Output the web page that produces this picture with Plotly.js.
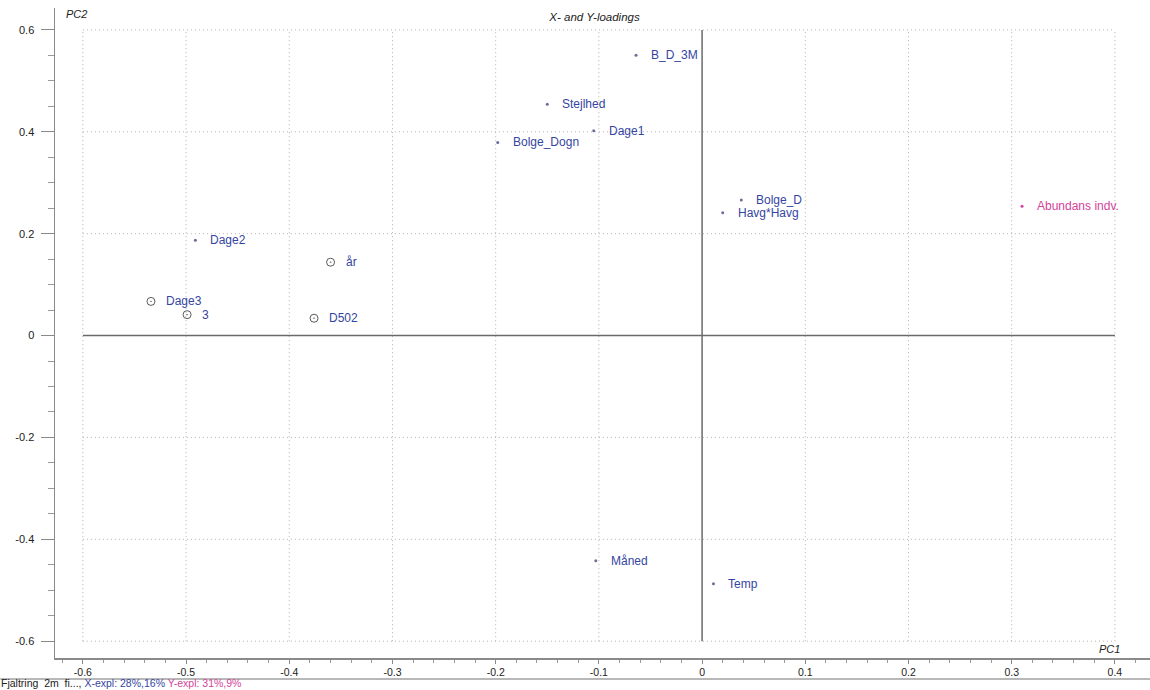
<!DOCTYPE html>
<html>
<head>
<meta charset="utf-8">
<script src="https://cdn.plot.ly/plotly-3.0.1.min.js"></script>
<style>
html,body{margin:0;padding:0;background:#fff;}
#chart{width:1150px;height:690px;}
</style>
</head>
<body>
<div id="chart"></div>
<script>
// X-variables (small dot markers)
const xVarNames = ['B_D_3M','Stejlhed','Dage1','Bolge_Dogn','Bolge_D','Havg*Havg','Dage2','Måned','Temp'];
const xVarPC1 = [-0.064,-0.150,-0.105,-0.198,0.038,0.020,-0.491,-0.103,0.011];
const xVarPC2 = [0.550,0.454,0.402,0.379,0.266,0.241,0.187,-0.442,-0.487];

// X-variables drawn with open circle markers
const catNames = ['år','Dage3','3','D502'];
const catPC1 = [-0.360,-0.534,-0.499,-0.376];
const catPC2 = [0.144,0.067,0.041,0.034];

// Y-variable
const yVarNames = ['Abundans indv.'];
const yVarPC1 = [0.310];
const yVarPC2 = [0.254];

// axis ticks / grid
const xGrid = [-0.6,-0.5,-0.4,-0.3,-0.2,-0.1,0,0.1,0.2,0.3,0.4];
const yGrid = [-0.6,-0.4,-0.2,0.2,0.4,0.6];
const xTickLabels = ['-0.6','-0.5','-0.4','-0.3','-0.2','-0.1','0','0.1','0.2','0.3','0.4'];
const yTickVals = [-0.6,-0.4,-0.2,0,0.2,0.4,0.6];
const yTickLabels = ['-0.6','-0.4','-0.2','0','0.2','0.4','0.6'];

const title = 'X- and Y-loadings';
const footerName = 'Fjaltring  2m  fi...,';
const footerX = 'X-expl: 28%,16%';
const footerY = 'Y-expl: 31%,9%';

const BLUE = '#34459f';
const MAGENTA = '#d4439c';
const GRIDC = '#b0b0b0';
const FONT = 'Liberation Sans, Arial, sans-serif';

const gxMin = xGrid[0], gxMax = xGrid[xGrid.length-1];
const gyMin = yGrid[0], gyMax = yGrid[yGrid.length-1];

const traces = [
  {
    type:'scatter', mode:'markers', x:xVarPC1, y:xVarPC2, text:xVarNames,
    marker:{symbol:'circle', size:3, color:'#6a6f9a'}, hoverinfo:'text'
  },
  {
    type:'scatter', mode:'markers', x:catPC1, y:catPC2, text:catNames,
    marker:{symbol:'circle-open-dot', size:8, color:'#5a5a5a', line:{width:1}}, hoverinfo:'text'
  },
  {
    type:'scatter', mode:'markers', x:yVarPC1, y:yVarPC2, text:yVarNames,
    marker:{symbol:'circle', size:3, color:MAGENTA}, hoverinfo:'text'
  }
];

const shapes = [];
xGrid.forEach(v => {
  if (v === 0) return;
  shapes.push({type:'line', xref:'x', yref:'y', x0:v, x1:v, y0:gyMin, y1:gyMax,
    line:{color:GRIDC, width:1, dash:'1px,3px'}, layer:'below'});
});
yGrid.forEach(v => {
  shapes.push({type:'line', xref:'x', yref:'y', x0:gxMin, x1:gxMax, y0:v, y1:v,
    line:{color:GRIDC, width:1, dash:'1px,3px'}, layer:'below'});
});
// zero lines
shapes.push({type:'line', xref:'x', yref:'y', x0:0, x1:0, y0:gyMin, y1:gyMax,
  line:{color:'#6a6a6a', width:1.5}, layer:'below'});
shapes.push({type:'line', xref:'x', yref:'y', x0:gxMin, x1:gxMax, y0:0, y1:0,
  line:{color:'#6a6a6a', width:1.5}, layer:'below'});
// separator line under x tick labels
shapes.push({type:'line', xref:'paper', yref:'paper', x0:-0.05, x1:1, y0:-0.0323, y1:-0.0323,
  line:{color:'#a0a0a0', width:1.5}, layer:'above'});

const annotations = [];
function addLabels(names, xs, ys, color){
  names.forEach((n,i) => {
    annotations.push({x:xs[i], y:ys[i], xref:'x', yref:'y', text:n, showarrow:false,
      xanchor:'left', yanchor:'middle', xshift:13,
      font:{family:FONT, size:12, color:color}});
  });
}
addLabels(xVarNames, xVarPC1, xVarPC2, BLUE);
addLabels(catNames, catPC1, catPC2, BLUE);
addLabels(yVarNames, yVarPC1, yVarPC2, MAGENTA);

annotations.push({xref:'paper', yref:'paper', x:0.008, y:1.0, xanchor:'left', yanchor:'top', yshift:2,
  text:'<i>PC2</i>', showarrow:false, font:{family:FONT, size:11, color:'#222'}});
annotations.push({xref:'paper', yref:'paper', x:0.974, y:0.002, xanchor:'right', yanchor:'bottom',
  text:'<i>PC1</i>', showarrow:false, font:{family:FONT, size:11, color:'#222'}});
annotations.push({xref:'paper', yref:'paper', x:-0.05, y:-0.0492, xanchor:'left', yanchor:'bottom',
  text:footerName + ' <span style="color:'+BLUE+'">' + footerX + '</span> <span style="color:'+MAGENTA+'">' + footerY + '</span>',
  showarrow:false, borderpad:0, font:{family:FONT, size:10.5, color:'#222'}});

const layout = {
  width:1150, height:690,
  margin:{l:55, r:0, t:8, b:32},
  paper_bgcolor:'#ffffff', plot_bgcolor:'#ffffff',
  showlegend:false,
  title:{text:'<i>'+title+'</i>', x:0.517, xanchor:'center', y:0.981, yanchor:'top',
    font:{family:FONT, size:11.5, color:'#222'}},
  font:{family:FONT, size:11, color:'#222'},
  xaxis:{
    range:[-0.627, 0.434], showgrid:false, zeroline:false,
    showline:true, linecolor:'#8a8a8a', linewidth:1.5,
    tickmode:'array', tickvals:xGrid, ticktext:xTickLabels,
    ticks:'outside', ticklen:4, tickcolor:'#8a8a8a', tickwidth:1,
    minor:{dtick:0.02, tick0:0, ticks:'outside', ticklen:3, tickcolor:'#9a9a9a', showgrid:false},
    tickfont:{size:10.5, color:'#222'}, fixedrange:true
  },
  yaxis:{
    range:[-0.633, 0.643], showgrid:false, zeroline:false,
    showline:true, linecolor:'#8a8a8a', linewidth:1.5,
    tickmode:'array', tickvals:yTickVals, ticktext:yTickLabels,
    ticks:'outside', ticklen:13, tickcolor:'#8a8a8a', tickwidth:1,
    ticklabelstandoff:4,
    minor:{dtick:0.05, tick0:0, ticks:'outside', ticklen:6, tickcolor:'#9a9a9a', showgrid:false},
    tickfont:{size:11, color:'#222'}, fixedrange:true
  },
  shapes:shapes,
  annotations:annotations
};

Plotly.newPlot('chart', traces, layout, {displayModeBar:false, staticPlot:true});
</script>
</body>
</html>
